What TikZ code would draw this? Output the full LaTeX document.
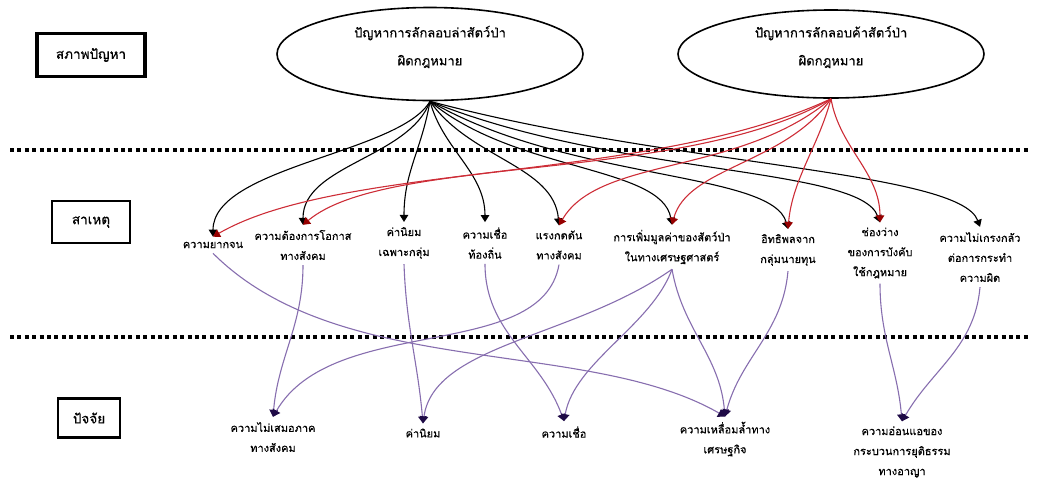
\documentclass[tikz,border=0pt]{standalone}
\usepackage{fontspec}
\newfontfamily\thaifont[Script=Thai, FakeBold=0.4]{Loma}
\usetikzlibrary{arrows.meta,shapes.geometric}

\definecolor{lnred}{RGB}{205,45,55}
\definecolor{tipred}{RGB}{150,0,0}
\definecolor{lnpurp}{RGB}{135,110,175}
\definecolor{tippurp}{RGB}{30,10,70}

\begin{document}
\begin{tikzpicture}[x=1pt, y=1pt,
    lbl/.style={font=\thaifont\fontsize{11}{20}\selectfont, align=center, inner xsep=2pt, inner ysep=5pt},
    hdr/.style={draw, line width=2.8pt, font=\thaifont\fontsize{13.5}{16}\selectfont},
    prob/.style={ellipse, draw, line width=1.6pt, inner sep=0pt},
    probtxt/.style={align=center, font=\thaifont\fontsize{13}{28}\selectfont},
    blk/.style={draw=black, line width=1.1pt, -{Triangle[width=8.5pt,length=7pt]}},
    rd/.style={draw=lnred, line width=1.1pt, -{Triangle[width=8.5pt,length=7pt,color=tipred]}},
    pp/.style={draw=lnpurp, line width=1.1pt, -{Triangle[width=8.5pt,length=7pt,color=tippurp]}},
    sep/.style={line width=4pt, dash pattern=on 4pt off 3.4pt}
]
    \useasboundingbox (0,0) rectangle (1039,-480);

    % section separators
    \draw[sep](10,-150)--(1030,-150);
    \draw[sep](10,-337)--(1030,-337);

    % row headers
    \node[hdr, line width=3.8pt, minimum width=108pt, minimum height=43pt](hProb) at (91,-55){สภาพปัญหา};
    \node[hdr, minimum width=78pt, minimum height=42pt](hCause) at (91,-222){สาเหตุ};
    \node[hdr, minimum width=62pt, minimum height=39pt](hFact) at (89,-418){ปัจจัย};

    % problems
    \node[prob, minimum width=306pt, minimum height=93pt](prob1) at (430,-54){};
    \node[probtxt](prob1t) at (430,-47){ปัญหาการลักลอบล่าสัตว์ป่า\\ผิดกฎหมาย};
    \node[prob, minimum width=306pt, minimum height=88pt](prob2) at (831,-54){};
    \node[probtxt](prob2t) at (831,-47){ปัญหาการลักลอบค้าสัตว์ป่า\\ผิดกฎหมาย};

    % causes
    \node[lbl](c1) at (213,-245){ความยากจน};
    \node[lbl](c2) at (303,-245){ความต้องการโอกาส\\ทางสังคม};
    \node[lbl](c3) at (404,-243){ค่านิยม\\เฉพาะกลุ่ม};
    \node[lbl](c4) at (485,-243){ความเชื่อ\\ท้องถิ่น};
    \node[lbl](c5) at (559,-245){แรงกดดัน\\ทางสังคม};
    \node[lbl](c6) at (672,-247){การเพิ่มมูลค่าของสัตว์ป่า\\ในทางเศรษฐศาสตร์};
    \node[lbl](c7) at (788,-250){อิทธิพลจาก\\กลุ่มนายทุน};
    \node[lbl](c8) at (880,-253){ช่องว่าง\\ของการบังคับ\\ใช้กฎหมาย};
    \node[lbl](c9) at (980,-257){ความไม่เกรงกลัว\\ต่อการกระทำ\\ความผิด};

    % factors
    \node[lbl](f1) at (273,-437){ความไม่เสมอภาค\\ทางสังคม};
    \node[lbl](f2) at (423,-433){ค่านิยม};
    \node[lbl](f3) at (564,-432){ความเชื่อ};
    \node[lbl](f4) at (725,-439){ความเหลื่อมล้ำทาง\\เศรษฐกิจ};
    \node[lbl](f5) at (902,-452){ความอ่อนแอของ\\กระบวนการยุติธรรม\\ทางอาญา};

    % hunting problem -> causes
    \draw[blk](prob1.south)to[out=240, in=90, out distance=60, in distance=70](c1.north);
    \draw[blk](prob1.south)to[out=250, in=90, out distance=60, in distance=60](c2.north);
    \draw[blk](prob1.south)to[out=260, in=90, out distance=50, in distance=50](c3.north);
    \draw[blk](prob1.south)to[out=-75, in=90, out distance=50, in distance=50](c4.north);
    \draw[blk](prob1.south)to[out=-55, in=95, out distance=70, in distance=60](c5.north);
    \draw[blk](prob1.south)to[out=-40, in=100, out distance=110, in distance=60](c6.north);
    \draw[blk](prob1.south)to[out=-30, in=105, out distance=160, in distance=60](c7.north);
    \draw[blk](prob1.south)to[out=-22, in=110, out distance=200, in distance=60](c8.north);
    \draw[blk](prob1.south)to[out=-15, in=110, out distance=250, in distance=60](c9.north);

    % trade problem -> causes
    \draw[rd](prob2.south)to[out=205, in=30, out distance=200, in distance=150](c1.north);
    \draw[rd](prob2.south)to[out=210, in=40, out distance=170, in distance=110](c2.north);
    \draw[rd](prob2.south)to[out=220, in=60, out distance=120, in distance=80](c5.north);
    \draw[rd](prob2.south)to[out=235, in=75, out distance=80, in distance=60](c6.north);
    \draw[rd](prob2.south)to[out=255, in=85, out distance=50, in distance=50](c7.north);
    \draw[rd](prob2.south)to[out=-80, in=90, out distance=50, in distance=50](c8.north);

    % causes -> factors
    \draw[pp](c1.south)to[out=-45, in=150, out distance=180, in distance=160](f4.north);
    \draw[pp](c2.south)to[out=-90, in=85](f1.north);
    \draw[pp](c5.south)to[out=-100, in=60, out distance=100, in distance=120](f1.north);
    \draw[pp](c3.south)to[out=-88, in=95](f2.north);
    \draw[pp](c6.south)to[out=215, in=82, out distance=120, in distance=80](f2.north);
    \draw[pp](c4.south)to[out=-90, in=110](f3.north);
    \draw[pp](c6.south)to[out=-110, in=80, out distance=60, in distance=60](f3.north);
    \draw[pp](c6.south)to[out=-80, in=95](f4.north);
    \draw[pp](c7.south)to[out=-95, in=75](f4.north);
    \draw[pp](c8.south)to[out=-90, in=95](f5.north);
    \draw[pp](c9.south)to[out=-95, in=60](f5.north);

\end{tikzpicture}
\end{document}
